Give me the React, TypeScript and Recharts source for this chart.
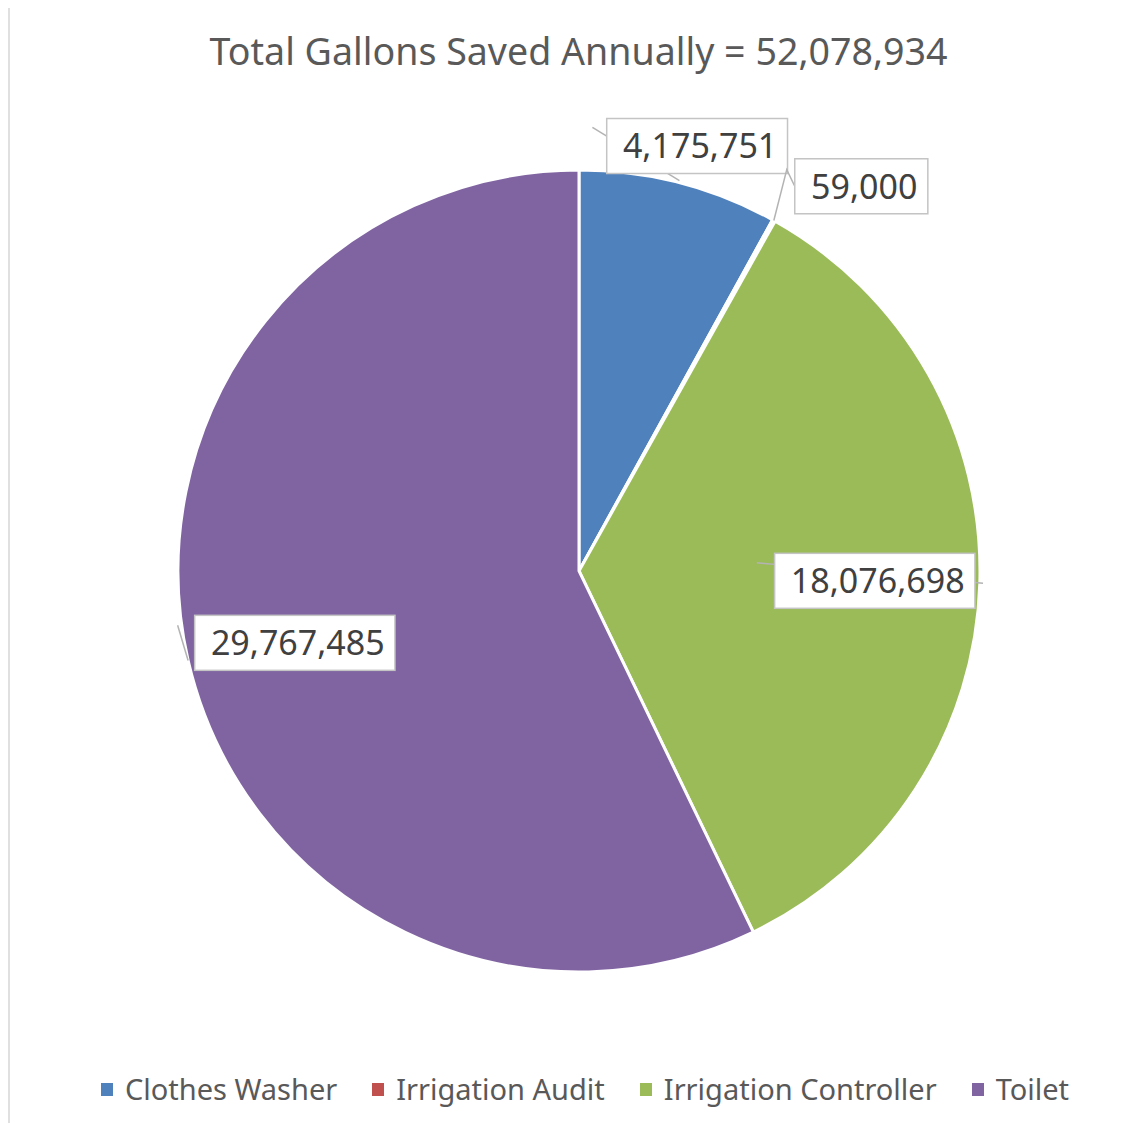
import { PieChart, Pie, Cell, Legend } from "recharts";

const categories = ["Clothes Washer", "Irrigation Audit", "Irrigation Controller", "Toilet"];
const gallons = [4175751, 59000, 18076698, 29767485];
const colors = ["#4F81BD", "#C0504D", "#9BBB59", "#8064A2"];

const totalGallons = gallons.reduce((a, b) => a + b, 0);
const data = categories.map((name, i) => ({ name, value: gallons[i] }));

// where each data label sits, relative to its slice:
// r = fraction of the radius, da = clockwise shift from the slice's mid angle (deg)
const labelPlacement = [
  { r: 1.1, da: 1.1, line: [[1.005, 0], [1.107, -12.7]], toBox: false },
  { r: 1.19, da: 7.2, line: [[1.0, 0], [1.127, -1.7]], toBox: true },
  { r: 0.738, da: 0.15, line: [[0.444, -4.4], [1.008, 0]], toBox: false },
  { r: 0.731, da: -1.3, line: [[1.0, 0], [1.01, 5.2]], toBox: false },
];

const RADIAN = Math.PI / 180;
const FONT = "'Noto Sans', 'Open Sans', sans-serif";
const LABEL_SIZE = 34;

const fmt = (v: number) => v.toLocaleString("en-US");

const textWidth = (s: string, size: number) => {
  let w = 0;
  for (const ch of s) w += ch === "," ? 0.26 : 0.572;
  return w * size;
};

function renderLabel(props: any) {
  const { cx, cy, midAngle, outerRadius, index, value } = props;
  const p = labelPlacement[index];
  const at = (f: number, da: number) => {
    const a = (midAngle - da) * RADIAN;
    return { x: cx + outerRadius * f * Math.cos(a), y: cy - outerRadius * f * Math.sin(a) };
  };
  const c = at(p.r, p.da);
  const text = fmt(value);
  const w = textWidth(text, LABEL_SIZE) + 27;
  const h = 55;
  const a = at(p.line[0][0], p.line[0][1]);
  const b = at(p.line[1][0], p.line[1][1]);
  const pts = [a, b];
  if (p.toBox) pts.push({ x: c.x - w / 2, y: c.y });
  return (
    <g key={`lbl-${index}`}>
      <polyline
        points={pts.map((q) => `${q.x},${q.y}`).join(" ")}
        fill="none"
        stroke="#b3b3b3"
        strokeWidth={1.5}
      />
      <rect
        x={c.x - w / 2}
        y={c.y - h / 2}
        width={w}
        height={h}
        fill="#fff"
        stroke="#c4c4c4"
        strokeWidth={1.5}
      />
      <text
        x={c.x + 3}
        y={c.y}
        dy="0.36em"
        textAnchor="middle"
        fontFamily={FONT}
        fontSize={LABEL_SIZE}
        fill="#404040"
      >
        {text}
      </text>
    </g>
  );
}

function LegendContent({ payload }: any) {
  return (
    <div
      style={{
        display: "flex",
        justifyContent: "center",
        paddingLeft: 30,
        fontFamily: FONT,
        fontSize: 29,
        color: "#595959",
        lineHeight: "34px",
      }}
    >
      {(payload || []).map((entry: any, i: number) => (
        <div key={i} style={{ display: "flex", alignItems: "center", marginRight: i < 3 ? 35 : 0 }}>
          <span
            style={{
              display: "inline-block",
              width: 12,
              height: 13,
              background: entry.color,
              marginRight: 12,
            }}
          />
          <span>{entry.value}</span>
        </div>
      ))}
    </div>
  );
}

export default function App() {
  return (
    <div
      style={{
        position: "relative",
        top: -3,
        width: 1122,
        height: 1116,
        borderTop: "2px solid #e0e0e0",
        borderLeft: "2px solid #e0e0e0",
        background: "#fff",
      }}
    >
      <div
        style={{
          position: "absolute",
          top: 25,
          left: 0,
          width: 1137,
          textAlign: "center",
          fontFamily: FONT,
          fontSize: 37.6,
          lineHeight: "37px",
          color: "#595959",
          zIndex: 1,
        }}
      >
        Total Gallons Saved Annually = {fmt(totalGallons)}
      </div>
      <PieChart width={1120} height={1114} margin={{ top: 0, right: 0, bottom: 0, left: 0 }}>
        <Pie
          data={data}
          dataKey="value"
          nameKey="name"
          cx={569}
          cy={564}
          outerRadius={401}
          startAngle={90}
          endAngle={-270}
          stroke="#fff"
          strokeWidth={3}
          label={renderLabel}
          labelLine={false}
          isAnimationActive={false}
        >
          {data.map((d, i) => (
            <Cell key={d.name} fill={colors[i]} />
          ))}
        </Pie>
        <Legend
          content={<LegendContent />}
          wrapperStyle={{ position: "absolute", top: 1065, left: 0, width: 1120 }}
        />
      </PieChart>
    </div>
  );
}
